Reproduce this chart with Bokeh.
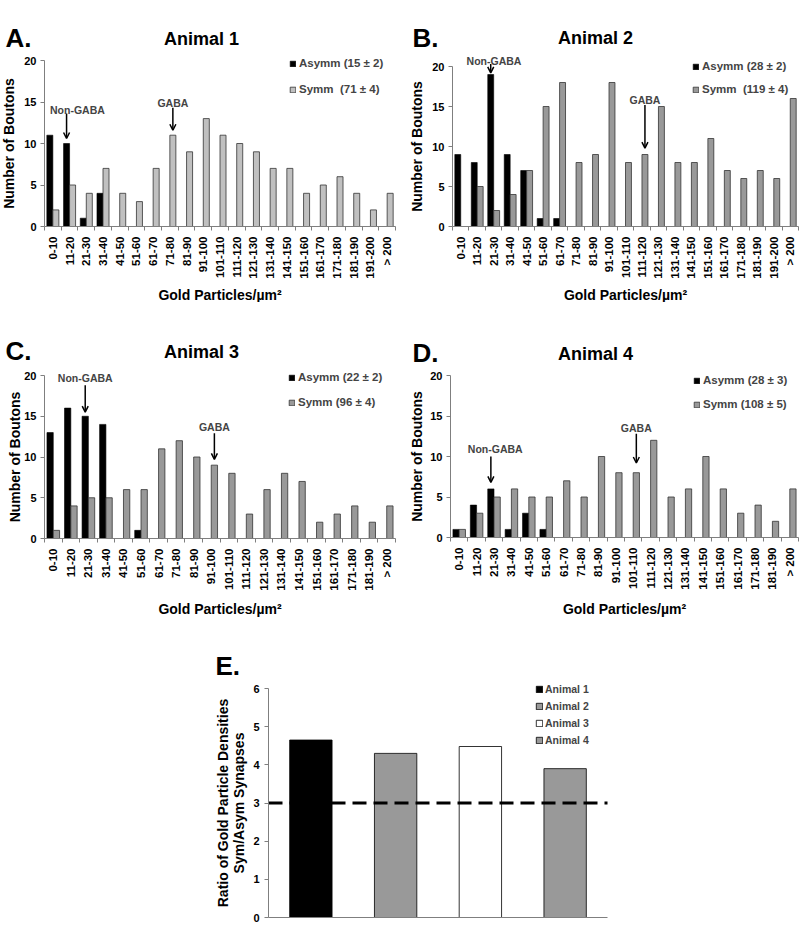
import math
import numpy as np
from bokeh.plotting import figure
from bokeh.layouts import column, row
from bokeh.models import (Range1d, FixedTicker, Label, Arrow, OpenHead, Legend, LegendItem,
                          ColumnDataSource, CDSView, BooleanFilter)
from bokeh.transform import dodge
from bokeh.embed import file_html
from bokeh.resources import INLINE

# ---------------- data ----------------
BINS_21 = ["0-10", "11-20", "21-30", "31-40", "41-50", "51-60", "61-70", "71-80", "81-90",
           "91-100", "101-110", "111-120", "121-130", "131-140", "141-150", "151-160",
           "161-170", "171-180", "181-190", "191-200", "> 200"]
BINS_20 = ["0-10", "11-20", "21-30", "31-40", "41-50", "51-60", "61-70", "71-80", "81-90",
           "91-100", "101-110", "111-120", "121-130", "131-140", "141-150", "151-160",
           "161-170", "171-180", "181-190", "> 200"]

A_ASYMM = [11, 10, 1, 4, 0, 0, 0, 0, 0, 0, 0, 0, 0, 0, 0, 0, 0, 0, 0, 0, 0]
A_SYMM = [2, 5, 4, 7, 4, 3, 7, 11, 9, 13, 11, 10, 9, 7, 7, 4, 5, 6, 4, 2, 4]

B_ASYMM = [9, 8, 19, 9, 7, 1, 1, 0, 0, 0, 0, 0, 0, 0, 0, 0, 0, 0, 0, 0, 0]
B_SYMM = [0, 5, 2, 4, 7, 15, 18, 8, 9, 18, 8, 9, 15, 8, 8, 11, 7, 6, 7, 6, 16]

C_ASYMM = [13, 16, 15, 14, 0, 1, 0, 0, 0, 0, 0, 0, 0, 0, 0, 0, 0, 0, 0, 0]
C_SYMM = [1, 4, 5, 5, 6, 6, 11, 12, 10, 9, 8, 3, 6, 8, 7, 2, 3, 4, 2, 4]

D_ASYMM = [1, 4, 6, 1, 3, 1, 0, 0, 0, 0, 0, 0, 0, 0, 0, 0, 0, 0, 0, 0]
D_SYMM = [1, 3, 5, 6, 5, 5, 7, 5, 10, 8, 8, 12, 5, 6, 10, 6, 3, 4, 2, 6]

LEG_A = ["Asymm (15 \u00b1 2)", "Symm  (71 \u00b1 4)"]
LEG_B = ["Asymm (28 \u00b1 2)", "Symm  (119 \u00b1 4)"]
LEG_C = ["Asymm (22 \u00b1 2)", "Symm (96 \u00b1 4)"]
LEG_D = ["Asymm (28 \u00b1 3)", "Symm (108 \u00b1 5)"]

ANIMALS = ["Animal 1", "Animal 2", "Animal 3", "Animal 4"]
RATIO = [4.65, 4.3, 4.48, 3.9]
THRESHOLD = 3

X_TITLE = "Gold Particles/\u00b5m\u00b2"
Y_TITLE = "Number of Boutons"
E_Y_TITLE = ["Ratio of Gold Particle Densities", "Sym/Asym Synapses"]

# ---------------- style ----------------
FONT = "Liberation Sans"
AXIS_GRAY = "#7f7f7f"
SYMM_LIGHT = "#c0c0c0"
SYMM_GRAY = "#999999"
E_COLORS = ["#000000", SYMM_GRAY, "#ffffff", SYMM_GRAY]
OFF = 0.18
BW = 0.36


def make_fig(W, H, px_l, px_r, py_b, py_t, x0, x1, y0, y1):
    """Figure whose frame fills the whole canvas; data box (x0..x1, y0..y1) lands on
    the given pixel box, and the axes are drawn inside at fixed locations."""
    sx = (x1 - x0) / (px_r - px_l)
    sy = (y1 - y0) / (py_b - py_t)
    p = figure(width=W, height=H, output_backend="svg", toolbar_location=None,
               x_range=Range1d(x0 - px_l * sx, x1 + (W - px_r) * sx),
               y_range=Range1d(y0 - (H - py_b) * sy, y1 + py_t * sy),
               min_border_left=0, min_border_right=0, min_border_top=0, min_border_bottom=0)
    p.grid.visible = False
    p.outline_line_color = None
    for ax in (p.xaxis[0], p.yaxis[0]):
        ax.axis_line_color = AXIS_GRAY
        ax.major_tick_line_color = AXIS_GRAY
        ax.minor_tick_line_color = AXIS_GRAY
        ax.major_label_text_font = FONT
        ax.major_label_text_font_style = "bold"
        ax.major_label_text_font_size = "11px"
        ax.major_label_text_color = "black"
    p.xaxis[0].fixed_location = y0
    p.yaxis[0].fixed_location = x0
    p.xaxis[0].bounds = (x0, x1)
    p.yaxis[0].bounds = (y0, y1)
    return p


def put(p, H, fx, fy, text, size, align="left", baseline="alphabetic", angle=0.0):
    p.add_layout(Label(x=fx, y=H - fy, x_units="screen", y_units="screen", text=text,
                       text_font=FONT, text_font_style="bold", text_font_size=size,
                       text_align=align, text_baseline=baseline, angle=angle,
                       text_color="black"))


def hist_panel(bins, asym, sym, sym_color, leg_labels, letter, title, W, H,
               px_l, px_r, py_b, py_t, letter_xy, title_xy, ylab_x, xlab_y, leg_xy,
               leg_spacing, notes):
    n = len(bins)
    centers = [int(c) for c in np.arange(1, n + 1)]
    p = make_fig(W, H, px_l, px_r, py_b, py_t, 0.5, n + 0.5, 0, 20)
    src = ColumnDataSource(dict(x=centers, asym=asym, sym=sym))
    va = CDSView(filter=BooleanFilter([v > 0 for v in asym]))
    vs = CDSView(filter=BooleanFilter([v > 0 for v in sym]))
    ra = p.vbar(x=dodge("x", -OFF), top="asym", width=BW, source=src, view=va,
                fill_color="black", line_color="black", line_width=0.6)
    rs = p.vbar(x=dodge("x", OFF), top="sym", width=BW, source=src, view=vs,
                fill_color=sym_color, line_color="#333333", line_width=0.8)

    xa = p.xaxis[0]
    xa.ticker = FixedTicker(ticks=centers,
                            minor_ticks=[float(v) for v in np.arange(0.5, n + 1, 1.0)])
    xa.major_label_overrides = {c: b for c, b in zip(centers, bins)}
    xa.major_label_orientation = math.pi / 2
    xa.major_label_text_font_size = "11.5px"
    xa.major_tick_out = 0
    xa.major_tick_in = 0
    xa.minor_tick_out = 4
    xa.minor_tick_in = 0
    xa.major_label_standoff = 6

    ya = p.yaxis[0]
    ya.ticker = FixedTicker(ticks=[0, 5, 10, 15, 20], minor_ticks=[])
    ya.major_tick_out = 4
    ya.major_tick_in = 0
    ya.major_label_standoff = 4

    put(p, H, ylab_x, (py_b + py_t) / 2, Y_TITLE, "14px", align="center",
        baseline="middle", angle=math.pi / 2)
    put(p, H, (px_l + px_r) / 2, xlab_y, X_TITLE, "14px", align="center")
    put(p, H, letter_xy[0], letter_xy[1], letter, "26px")
    put(p, H, title_xy[0], title_xy[1], title, "18px", align="center")

    leg = Legend(items=[LegendItem(label=leg_labels[0], renderers=[ra]),
                        LegendItem(label=leg_labels[1], renderers=[rs])],
                 location=(leg_xy[0], H - leg_xy[1]), orientation="vertical", padding=0,
                 margin=0, spacing=leg_spacing, glyph_width=7, glyph_height=7,
                 label_standoff=3, label_height=14, label_text_font=FONT,
                 label_text_font_style="bold", label_text_font_size="11.5px",
                 label_text_baseline="middle", border_line_color=None,
                 background_fill_alpha=0)
    p.add_layout(leg)

    for txt, idx, series, ty, y0, y1, tdx in notes:
        ax_x = idx + 1 + (-OFF if series == "asym" else OFF)
        p.add_layout(Arrow(x_start=ax_x, y_start=y0, x_end=ax_x, y_end=y1,
                           line_color="black", line_width=1.5,
                           end=OpenHead(size=6, line_width=1.5, line_color="black")))
        p.add_layout(Label(x=ax_x + tdx, y=ty, text=txt, text_font=FONT,
                           text_font_style="bold", text_font_size="10.5px",
                           text_align="center", text_baseline="alphabetic"))
    return p


# pixel boxes are given in each figure's own pixels (from its top-left corner)
H1, H2, H3 = 302, 315, 318

pA = hist_panel(BINS_21, A_ASYMM, A_SYMM, SYMM_LIGHT, LEG_A, "A.", "Animal 1",
                400, H1, 44, 395, 226, 60,
                letter_xy=(5, 37), title_xy=(201, 38), ylab_x=8, xlab_y=294,
                leg_xy=(289, 96), leg_spacing=12,
                notes=[("Non-GABA", 1, "asym", 14.0, 13.6, 10.6, 0.65),
                       ("GABA", 7, "symm", 14.9, 14.3, 11.6, 0.0)])

pB = hist_panel(BINS_21, B_ASYMM, B_SYMM, SYMM_GRAY, LEG_B, "B.", "Animal 2",
                400, H1, 52, 398, 226, 66,
                letter_xy=(12, 37), title_xy=(195, 37), ylab_x=16, xlab_y=294,
                leg_xy=(292, 96), leg_spacing=9,
                notes=[("Non-GABA", 2, "asym", 20.7, 20.3, 19.2, 0.2),
                       ("GABA", 11, "symm", 15.8, 15.2, 9.8, 0.0)])

pC = hist_panel(BINS_20, C_ASYMM, C_SYMM, SYMM_GRAY, LEG_C, "C.", "Animal 3",
                400, H2, 44, 395, 236, 73,
                letter_xy=(5, 48), title_xy=(201, 49), ylab_x=14, xlab_y=306,
                leg_xy=(288, 107), leg_spacing=11,
                notes=[("Non-GABA", 2, "asym", 19.7, 18.8, 15.5, 0.0),
                       ("GABA", 9, "symm", 13.65, 12.9, 9.7, 0.0)])

pD = hist_panel(BINS_20, D_ASYMM, D_SYMM, SYMM_GRAY, LEG_D, "D.", "Animal 4",
                400, H2, 50, 398, 235, 73,
                letter_xy=(12, 50), title_xy=(195, 51), ylab_x=16, xlab_y=306,
                leg_xy=(293, 109), leg_spacing=10,
                notes=[("Non-GABA", 2, "asym", 10.9, 10.0, 6.8, 0.25),
                       ("GABA", 10, "symm", 13.5, 12.8, 9.2, 0.0)])

# ---------------- panel E ----------------
WE = 800
nE = len(ANIMALS)
E_BOT, E_TOP = 300, 71
pE = make_fig(WE, H3, 268, 607, E_BOT, E_TOP, 0.5, nE + 0.5, 0, 6)
srcE = ColumnDataSource(dict(x=list(range(1, nE + 1)), ratio=RATIO, color=E_COLORS,
                             label=ANIMALS))
rE = pE.vbar(x="x", top="ratio", width=0.5, source=srcE, fill_color="color",
             line_color="black", line_width=0.8)
pE.segment(x0=0.5, x1=nE + 0.5, y0=THRESHOLD, y1=THRESHOLD, line_color="black",
           line_width=3, line_dash="14 7")
pE.xaxis[0].ticker = FixedTicker(ticks=[])
pE.xaxis[0].major_tick_line_color = None
pE.xaxis[0].minor_tick_line_color = None
pE.xaxis[0].major_label_text_font_size = "0px"
pE.yaxis[0].ticker = FixedTicker(ticks=[0, 1, 2, 3, 4, 5, 6], minor_ticks=[])
pE.yaxis[0].major_tick_out = 4
pE.yaxis[0].major_tick_in = 0
pE.yaxis[0].major_label_standoff = 5
ymidE = (E_BOT + E_TOP) / 2
put(pE, H3, 222, ymidE, E_Y_TITLE[0], "14px", align="center", baseline="middle",
    angle=math.pi / 2)
put(pE, H3, 238, ymidE, E_Y_TITLE[1], "14px", align="center", baseline="middle",
    angle=math.pi / 2)
put(pE, H3, 215, 48, "E.", "26px")
legE = Legend(items=[LegendItem(label=a, renderers=[rE], index=i) for i, a in enumerate(ANIMALS)],
              location=(535, H3 - 129), orientation="vertical", padding=0, margin=0,
              spacing=5, glyph_width=8, glyph_height=8, label_standoff=2, label_height=12,
              label_text_font=FONT, label_text_font_style="bold", label_text_font_size="10.5px",
              label_text_baseline="middle", border_line_color=None, background_fill_alpha=0)
pE.add_layout(legE)

layout = column(row(pA, pB), row(pC, pD), pE)

with open("out.html", "w") as f:
    f.write(file_html(layout, INLINE))
